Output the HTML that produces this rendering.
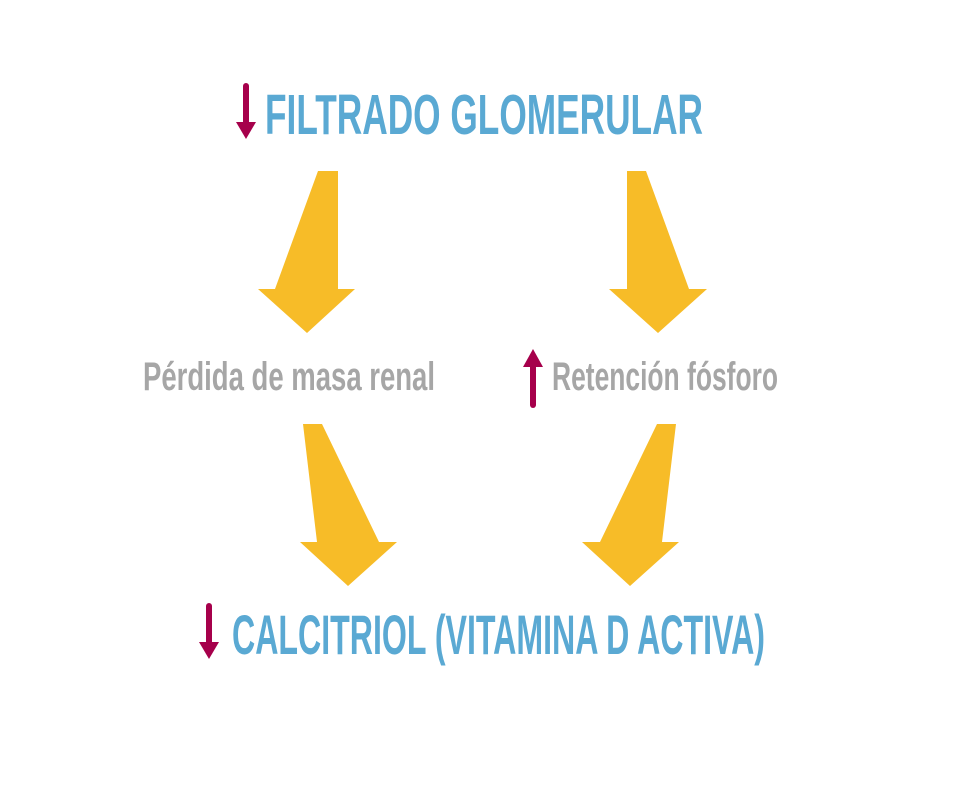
<!DOCTYPE html>
<html><head><meta charset="utf-8"><style>
html,body{margin:0;padding:0;background:#fff;}
svg{display:block;}
text{font-family:"Liberation Sans Narrow","Liberation Sans",sans-serif;font-weight:bold;}
</style></head><body>
<svg width="976" height="797" viewBox="0 0 976 797" xmlns="http://www.w3.org/2000/svg">
<rect width="976" height="797" fill="#fff"/>
<!-- crimson arrows -->
<line x1="246" y1="86" x2="246" y2="124" stroke="#a6004b" stroke-width="6" stroke-linecap="round"/>
<polygon points="236,122 256,122 246,139" fill="#a6004b"/>
<line x1="209" y1="606" x2="209" y2="644" stroke="#a6004b" stroke-width="6" stroke-linecap="round"/>
<polygon points="199,642 219,642 209,659" fill="#a6004b"/>
<line x1="533" y1="365" x2="533" y2="405" stroke="#a6004b" stroke-width="6" stroke-linecap="round"/>
<polygon points="523,367 543,367 533,349" fill="#a6004b"/>
<!-- yellow arrows -->
<g fill="#f7bc28">
<polygon points="318,171 338,171 338,289 355,289 307,333 258,289 275,289"/>
<polygon points="627,171 646,171 689,289 707,289 658,333 609,289 627,289"/>
<polygon points="303,424 322,424 379,542 397,542 348,586 300,542 317,542"/>
<polygon points="657,424 676,424 662,542 679,542 630,586 582,542 600,542"/>
</g>
<!-- texts -->
<text x="265" y="134" font-size="57" fill="#5aa9d3" textLength="438" lengthAdjust="spacingAndGlyphs">FILTRADO GLOMERULAR</text>
<text x="143" y="390" font-size="40" fill="#a6a6a6" textLength="292" lengthAdjust="spacingAndGlyphs">Pérdida de masa renal</text>
<text x="552" y="390" font-size="40" fill="#a6a6a6" textLength="226" lengthAdjust="spacingAndGlyphs">Retención fósforo</text>
<text x="232" y="654" font-size="56" fill="#5aa9d3" textLength="533" lengthAdjust="spacingAndGlyphs">CALCITRIOL (VITAMINA D ACTIVA)</text>
</svg>
</body></html>
